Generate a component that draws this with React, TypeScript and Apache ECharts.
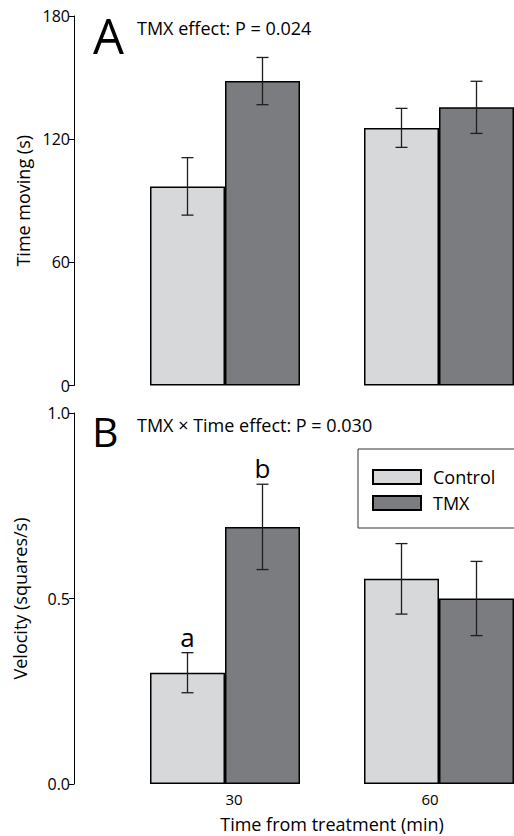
import React, { useEffect, useRef } from "react";
import * as echarts from "echarts";

const categories = ["30", "60"];
const seriesNames = ["Control", "TMX"];
const timeMovingControl = [97, 125.5];
const timeMovingTMX = [148.3, 135.5];
const timeMovingControlSE = [14, 9.5];
const timeMovingTMXSE = [11.5, 12.7];
const velocityControl = [0.3, 0.553];
const velocityTMX = [0.693, 0.5];
const velocityControlSE = [0.054, 0.095];
const velocityTMXSE = [0.115, 0.1];
const velocityLettersControl = ["a", ""];
const velocityLettersTMX = ["b", ""];
const timeMovingTicks = { min: 0, max: 180, interval: 60 };
const velocityTicks = { min: 0, max: 1, interval: 0.5 };

const FONT = "Open Sans";
const BAR_W = 75;
const COLORS = ["#d7d8da", "#7b7c80"];

function errorSeries(
  name: string,
  means: number[],
  ses: number[],
  letters: string[] | null,
  offset: number,
  gridIdx: number
) {
  return {
    type: "custom",
    name,
    xAxisIndex: gridIdx,
    yAxisIndex: gridIdx,
    z: 5,
    silent: true,
    clip: false,
    data: means.map((m, i) => [i, m, ses[i]]),
    renderItem: (params: any, api: any) => {
      const idx = api.value(0);
      const mean = api.value(1);
      const se = api.value(2);
      const hi = api.coord([idx, mean + se]);
      const lo = api.coord([idx, mean - se]);
      const x = hi[0] + offset;
      const cap = 6;
      const st = { stroke: "#1e1e1e", lineWidth: 1.3 };
      const children: any[] = [
        { type: "line", shape: { x1: x, y1: hi[1], x2: x, y2: lo[1] }, style: st },
        { type: "line", shape: { x1: x - cap, y1: hi[1], x2: x + cap, y2: hi[1] }, style: st },
        { type: "line", shape: { x1: x - cap, y1: lo[1], x2: x + cap, y2: lo[1] }, style: st },
      ];
      const letter = letters ? letters[params.dataIndex] : "";
      if (letter) {
        children.push({
          type: "text",
          style: {
            text: letter,
            x,
            y: hi[1] - 3,
            textAlign: "center",
            textVerticalAlign: "bottom",
            fontSize: 26,
            fontFamily: FONT,
            fill: "#000",
          },
        });
      }
      return { type: "group", children };
    },
  };
}

function barSeries(name: string, values: number[], color: string, gridIdx: number) {
  return {
    type: "bar",
    name,
    xAxisIndex: gridIdx,
    yAxisIndex: gridIdx,
    data: values,
    barWidth: BAR_W,
    barGap: "0%",
    itemStyle: { color, borderColor: "#000", borderWidth: 1.5 },
  };
}

export default function App() {
  const ref = useRef<HTMLDivElement>(null);
  useEffect(() => {
    if (!ref.current) return;
    const chart = echarts.init(ref.current, null, { renderer: "svg" });
    const yAxisBase = {
      type: "value",
      offset: 44,
      splitLine: { show: false },
      axisLine: { show: true, lineStyle: { color: "#000", width: 1 } },
      axisTick: { show: true, length: 5, lineStyle: { color: "#000", width: 1 } },
      axisLabel: { color: "#000", fontSize: 16, fontFamily: FONT, margin: 4 },
      nameLocation: "middle",
      nameTextStyle: { color: "#000", fontSize: 18, fontFamily: FONT },
    };
    const option: any = {
      animation: false,
      backgroundColor: "#fff",
      textStyle: { fontFamily: FONT },
      grid: [
        { left: 118, top: 16, width: 428, height: 369.5, outerBoundsMode: "none", containLabel: false },
        { left: 118, top: 413, width: 428, height: 371, outerBoundsMode: "none", containLabel: false },
      ],
      xAxis: [
        {
          type: "category",
          gridIndex: 0,
          data: categories,
          axisLine: { show: false },
          axisTick: { show: false },
          axisLabel: { show: false },
        },
        {
          type: "category",
          gridIndex: 1,
          data: categories,
          axisLine: { show: false },
          axisTick: { show: false },
          axisLabel: {
            color: "#000",
            fontSize: 15,
            fontFamily: FONT,
            margin: 7,
            formatter: (v: string) => `{c${v}|${v}}`,
            rich: {
              c30: { fontSize: 15, fontFamily: FONT, color: "#000", padding: [0, 0, 0, 18] },
              c60: { fontSize: 15, fontFamily: FONT, color: "#000", padding: [0, 18, 0, 0] },
            },
          },
          name: "Time from treatment (min)",
          nameLocation: "middle",
          nameGap: 31,
          nameTextStyle: { color: "#000", fontSize: 18, fontFamily: FONT },
        },
      ],
      yAxis: [
        {
          ...yAxisBase,
          gridIndex: 0,
          ...timeMovingTicks,
          name: "Time moving (s)",
          nameGap: 41,
        },
        {
          ...yAxisBase,
          gridIndex: 1,
          ...velocityTicks,
          name: "Velocity (squares/s)",
          nameGap: 45,
          axisLabel: { ...yAxisBase.axisLabel, formatter: (v: number) => v.toFixed(1) },
        },
      ],
      legend: {
        data: seriesNames,
        orient: "vertical",
        left: 358,
        top: 449,
        padding: [19, 40, 16, 14],
        itemGap: 8,
        itemWidth: 48,
        itemHeight: 14,
        icon: "rect",
        borderColor: "#333",
        borderWidth: 1,
        textStyle: { color: "#000", fontSize: 18, fontFamily: FONT, padding: [0, 0, 0, 7] },
      },
      graphic: [
        {
          type: "text",
          left: 93,
          top: 10,
          style: { text: "A", fontSize: 49, fontFamily: FONT, fill: "#000" },
        },
        {
          type: "text",
          left: 137,
          top: 19,
          style: { text: "TMX effect: P = 0.024", fontSize: 18, fontFamily: FONT, fill: "#000" },
        },
        {
          type: "text",
          left: 92,
          top: 410,
          style: { text: "B", fontSize: 41, fontFamily: FONT, fill: "#000" },
        },
        {
          type: "text",
          left: 137,
          top: 416,
          style: {
            text: "TMX × Time effect: P = 0.030",
            fontSize: 18,
            fontFamily: FONT,
            fill: "#000",
          },
        },
      ],
      series: [
        barSeries(seriesNames[0], timeMovingControl, COLORS[0], 0),
        barSeries(seriesNames[1], timeMovingTMX, COLORS[1], 0),
        barSeries(seriesNames[0], velocityControl, COLORS[0], 1),
        barSeries(seriesNames[1], velocityTMX, COLORS[1], 1),
        errorSeries("Control SE A", timeMovingControl, timeMovingControlSE, null, -BAR_W / 2, 0),
        errorSeries("TMX SE A", timeMovingTMX, timeMovingTMXSE, null, BAR_W / 2, 0),
        errorSeries("Control SE B", velocityControl, velocityControlSE, velocityLettersControl, -BAR_W / 2, 1),
        errorSeries("TMX SE B", velocityTMX, velocityTMXSE, velocityLettersTMX, BAR_W / 2, 1),
      ],
    };
    chart.setOption(option);
    return () => chart.dispose();
  }, []);
  return (
    <div
      ref={ref}
      style={{ position: "fixed", left: 0, top: 0, width: 514, height: 836, background: "#fff" }}
    />
  );
}
